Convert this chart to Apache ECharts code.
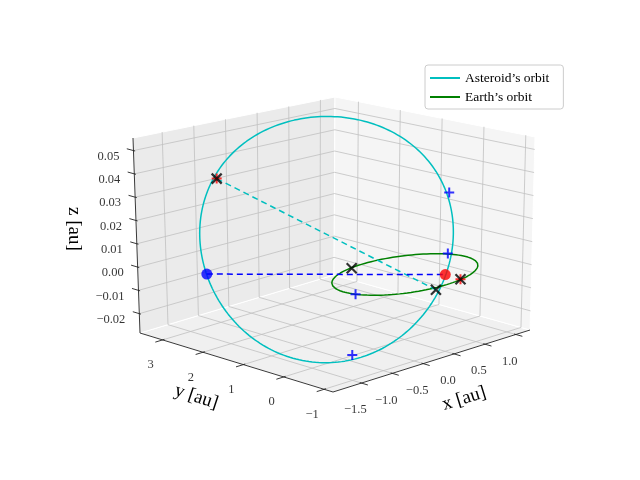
<!DOCTYPE html>
<html><head><meta charset="utf-8">
<script src="https://cdn.jsdelivr.net/npm/echarts@6/dist/echarts.min.js"></script>
<style>html,body{margin:0;padding:0;background:#fff}#c{width:640px;height:480px}</style>
</head><body><div id="c"></div>
<script>
// ---- data ----
const xRange = [-1.96, 1.23];
const yRange = [-1.22, 3.56];
const zRange = [-0.0283, 0.0554];
const xTicks = [-1.5, -1.0, -0.5, 0.0, 0.5, 1.0];
const xTickLabels = ['−1.5', '−1.0', '−0.5', '0.0', '0.5', '1.0'];
const yTicks = [-1, 0, 1, 2, 3];
const yTickLabels = ['−1', '0', '1', '2', '3'];
const zTicks = [-0.02, -0.01, 0.0, 0.01, 0.02, 0.03, 0.04, 0.05];
const zTickLabels = ['−0.02', '−0.01', '0.00', '0.01', '0.02', '0.03', '0.04', '0.05'];
// asteroid orbit: centre + U cos t + V sin t
const orbitCenter = [-0.31, 1.44, 0.0125];
const orbitU = [0.996, -1.571, 0.0];
const orbitV = [1.022, 1.511, 0.0395];
const earthRadius = 0.98;
// markers
const nodeAsc = [-1.58, 2.44, 0.0];        // blue dot
const nodeDesc = [0.30, -0.53, 0.0];       // red dot
const apsides = [[-0.703, 3.489, 0.0305], [0.107, -0.598, -0.0047]];
const blackX = [[-0.703, 3.489, 0.0305], [0.107, -0.598, -0.0047], [-0.24, 0.93, 0.0], [0.28, -0.93, 0.0]];
const redPlus = [[-0.703, 3.489, 0.0305], [0.28, -0.93, 0.0]];
const bluePlus = [[0.99, 0.44, 0.0263], [0.493, -0.295, 0.0066], [-1.066, -0.334, -0.0245], [-0.95, -0.24, 0.0]];

// ---- projection (box corners on the page) ----
const C = {
  '000': [333, 392], '100': [530, 330], '010': [140, 333], '110': [334, 275],
  '001': [332, 192], '101': [535, 137], '011': [133, 138], '111': [335, 97]
};
function proj(p) {
  const fx = (p[0] - xRange[0]) / (xRange[1] - xRange[0]);
  const fy = (p[1] - yRange[0]) / (yRange[1] - yRange[0]);
  const fz = (p[2] - zRange[0]) / (zRange[1] - zRange[0]);
  const out = [0, 0];
  for (let k = 0; k < 2; k++) {
    const l = (a, b, t) => a + (b - a) * t;
    const c00 = l(C['000'][k], C['100'][k], fx), c10 = l(C['010'][k], C['110'][k], fx);
    const c01 = l(C['001'][k], C['101'][k], fx), c11 = l(C['011'][k], C['111'][k], fx);
    const c0 = l(c00, c10, fy), c1 = l(c01, c11, fy);
    out[k] = l(c0, c1, fz);
  }
  return out;
}
const [x0, x1] = xRange, [y0, y1] = yRange, [z0, z1] = zRange;

// panes
const panes = [
  {pts: [[x0, y0, z0], [x1, y0, z0], [x1, y1, z0], [x0, y1, z0]], fill: '#f0f0f0'},
  {pts: [[x0, y1, z0], [x1, y1, z0], [x1, y1, z1], [x0, y1, z1]], fill: '#ebebeb'},
  {pts: [[x1, y0, z0], [x1, y1, z0], [x1, y1, z1], [x1, y0, z1]], fill: '#f5f5f5'}
];
// grid lines
const grid = [];
xTicks.forEach(x => { grid.push([[x, y0, z0], [x, y1, z0]]); grid.push([[x, y1, z0], [x, y1, z1]]); });
yTicks.forEach(y => { grid.push([[x0, y, z0], [x1, y, z0]]); grid.push([[x1, y, z0], [x1, y, z1]]); });
zTicks.forEach(z => { grid.push([[x0, y1, z], [x1, y1, z]]); grid.push([[x1, y0, z], [x1, y1, z]]); });
// axis lines + ticks
const axes = [[[x0, y0, z0], [x1, y0, z0]], [[x0, y0, z0], [x0, y1, z0]], [[x0, y1, z0], [x0, y1, z1]]];
xTicks.forEach(x => axes.push([[x, y0 + 0.04, z0], [x, y0 - 0.16, z0]]));
yTicks.forEach(y => axes.push([[x0 + 0.03, y, z0], [x0 - 0.12, y, z0]]));
zTicks.forEach(z => axes.push([[x0, y1 - 0.04, z], [x0, y1 + 0.16, z]]));

// curves
const N = 240, ast = [], earth = [];
for (let i = 0; i <= N; i++) {
  const t = 2 * Math.PI * i / N, c = Math.cos(t), s = Math.sin(t);
  ast.push(proj([0, 1, 2].map(k => orbitCenter[k] + orbitU[k] * c + orbitV[k] * s)));
  earth.push(proj([earthRadius * c, earthRadius * s, 0]));
}

const FONT = '"Liberation Serif", "DejaVu Serif", serif';
function labelSeries(ticks, labels, toPt, offset, align) {
  return {
    type: 'scatter', symbolSize: 0, z: 4, silent: true,
    data: ticks.map((t, i) => ({value: proj(toPt(t)), name: labels[i]})),
    label: {show: true, position: 'inside', formatter: p => p.name, offset: offset, align: align,
      verticalAlign: 'middle', color: '#000', fontSize: 12.5, fontFamily: FONT}
  };
}
const X_SYM = 'path://M0,0L10,10M10,0L0,10';
const P_SYM = 'path://M5,0L5,10M0,5L10,5';

const chart = echarts.init(document.getElementById('c'));
chart.setOption({
  animation: false,
  grid: {left: 0, right: 0, top: 0, bottom: 0},
  xAxis: {type: 'value', min: 0, max: 640, show: false},
  yAxis: {type: 'value', min: 0, max: 480, inverse: true, show: false},
  legend: {
    data: ['Asteroid’s orbit', 'Earth’s orbit'], orient: 'vertical', left: 425, top: 65,
    padding: [6, 14, 5, 5], itemGap: 5, itemWidth: 30, itemHeight: 2, icon: 'rect',
    backgroundColor: '#fff', borderColor: '#ccc', borderWidth: 1, borderRadius: 3,
    textStyle: {fontFamily: FONT, fontSize: 13.5, color: '#000'}
  },
  series: [
    {type: 'custom', z: 1, silent: true, data: panes.map(() => [0, 0]),
      renderItem: (params, api) => ({type: 'polygon',
        shape: {points: panes[params.dataIndex].pts.map(p => api.coord(proj(p)))},
        style: {fill: panes[params.dataIndex].fill, stroke: '#fff', lineWidth: 1}})},
    {type: 'lines', coordinateSystem: 'cartesian2d', z: 2, silent: true,
      data: grid.map(g => ({coords: g.map(proj)})), lineStyle: {color: '#c0c0c0', width: 0.8, opacity: 1}},
    {type: 'lines', coordinateSystem: 'cartesian2d', z: 3, silent: true,
      data: axes.map(g => ({coords: g.map(proj)})), lineStyle: {color: '#222', width: 0.9, opacity: 1}},
    labelSeries(xTicks, xTickLabels, x => [x, y0, z0], [-6, 27], 'center'),
    labelSeries(yTicks, yTickLabels, y => [x0, y, z0], [-12, 25], 'center'),
    labelSeries(zTicks, zTickLabels, z => [x0, y1, z], [-14, 6], 'right'),
    {name: 'Asteroid’s orbit', type: 'line', z: 5, showSymbol: false, data: ast, color: '#00bfbf',
      lineStyle: {color: '#00bfbf', width: 1.5}},
    {name: 'Earth’s orbit', type: 'line', z: 5, showSymbol: false, data: earth, color: '#008000',
      lineStyle: {color: '#008000', width: 1.5}},
    {type: 'line', z: 5, showSymbol: false, data: apsides.map(proj),
      lineStyle: {color: '#00bfbf', width: 1.5, type: [6, 4]}},
    {type: 'line', z: 5, showSymbol: false, data: [nodeAsc, nodeDesc].map(proj),
      lineStyle: {color: '#0000ff', width: 1.5, type: [6, 4]}},
    {type: 'scatter', z: 6, symbol: P_SYM, symbolSize: 10, data: redPlus.map(proj),
      itemStyle: {color: 'transparent', borderColor: '#ff0000', borderWidth: 2}},
    {type: 'scatter', z: 7, symbol: X_SYM, symbolSize: 10, data: blackX.map(proj),
      itemStyle: {color: 'transparent', borderColor: '#000', borderWidth: 2.2}},
    {type: 'scatter', z: 7, symbol: P_SYM, symbolSize: 10, data: bluePlus.map(proj),
      itemStyle: {color: 'transparent', borderColor: '#0000ff', borderWidth: 2}},
    {type: 'scatter', z: 7, symbol: 'circle', symbolSize: 11, data: [proj(nodeAsc)], itemStyle: {color: '#0000ff'}},
    {type: 'scatter', z: 7, symbol: 'circle', symbolSize: 11, data: [proj(nodeDesc)], itemStyle: {color: '#ff0000'}}
  ],
  graphic: [
    {type: 'text', left: 440, top: 383, rotation: 0.3, style: {text: 'x [au]', fontFamily: FONT, fontSize: 19, fill: '#000'}},
    {type: 'text', left: 172, top: 381, rotation: -0.32, style: {text: 'y [au]', fontFamily: FONT, fontSize: 19, fill: '#000'}},
    {type: 'text', left: 64, top: 207, rotation: -Math.PI / 2, style: {text: 'z [au]', fontFamily: FONT, fontSize: 19, fill: '#000'}}
  ]
});
</script></body></html>
